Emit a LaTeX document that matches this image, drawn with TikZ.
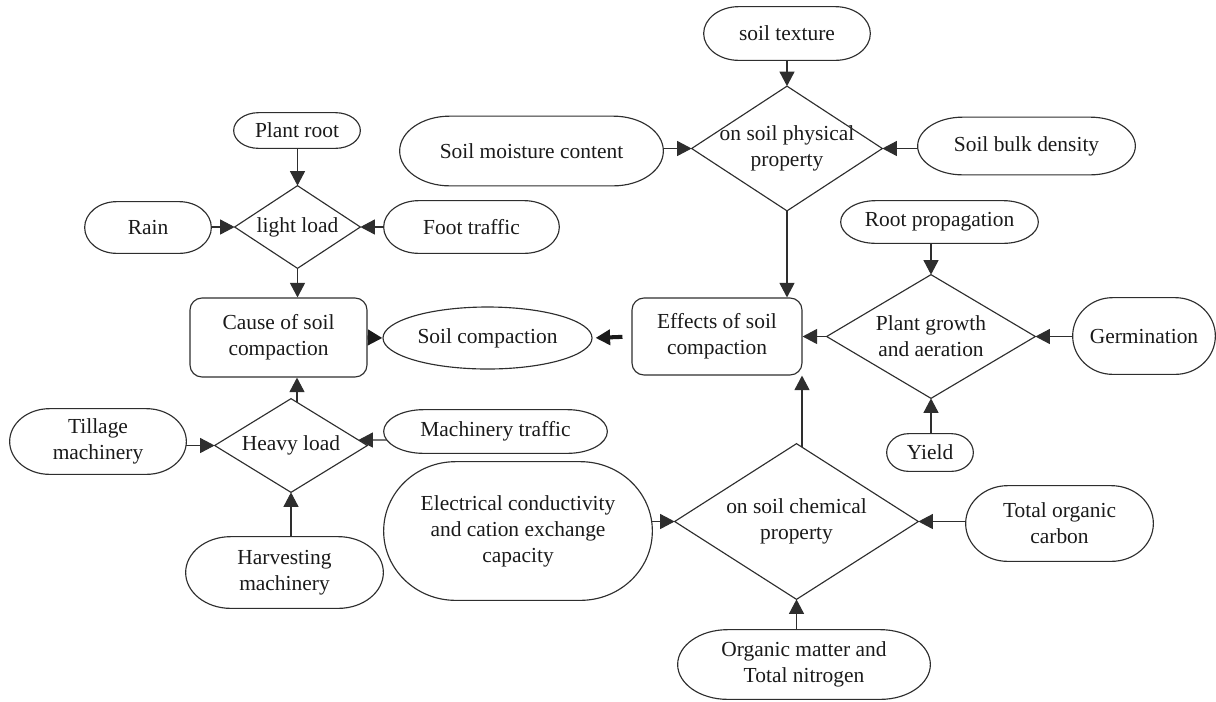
\documentclass[tikz,border=0pt]{standalone}
\usepackage{fontspec}
\setmainfont{Liberation Serif}
\usetikzlibrary{arrows.meta,calc,shapes.geometric}
\definecolor{ln}{HTML}{2E2E2E}
\definecolor{tx}{HTML}{1A1A1A}
\newcommand\stad[2]{\draw[shp] let \p1=(#1.north west), \p2=(#1.south east), \n1={(\y1-\y2)/2}, \n2={#2*0.02cm} in
  (\x1+\n2,\y1) -- (\x2-\n2,\y1) arc[start angle=90,end angle=-90,x radius=\n2,y radius=\n1]
  -- (\x1+\n2,\y2) arc[start angle=-90,end angle=-270,x radius=\n2,y radius=\n1] -- cycle;}
\newcommand\dmd[1]{\draw[shp] (#1.north) -- (#1.east) -- (#1.south) -- (#1.west) -- cycle;}
\begin{document}
\begin{tikzpicture}[x=0.02cm,y=-0.02cm,
  shp/.style={draw=ln, line width=0.65pt},
  nbase/.style={font=\fontsize{12.2}{14.8}\selectfont, text=tx, align=center, inner sep=0pt},
  sz/.style 2 args={minimum width=#1*0.02cm, minimum height=#2*0.02cm},
  blankn/.style={nbase, rectangle, draw=none},
  rbox/.style={nbase, rectangle, shp, rounded corners=0.24cm},
  ell/.style={nbase, ellipse, shp},
  arr/.style={draw=ln, line width=0.65pt, -{Triangle[length=0.29cm,width=0.3cm]}},
  bigarr/.style={draw=tx, line width=2.3pt, -{Triangle[length=0.29cm,width=0.3cm]}}]
\useasboundingbox (0,0) rectangle (1216,701);

% stadium-shaped nodes
\node[blankn, sz={166}{53}] (texture) at (787,33.5) {soil texture};
\node[blankn, sz={263}{69}] (moisture) at (531.5,151) {Soil moisture content};
\node[blankn, sz={217}{57}] (bulk) at (1026.5,146) {Soil bulk density};
\node[blankn, sz={197}{42}] (rootprop) at (939.5,222) {Root propagation};
\node[blankn, sz={126}{35}] (plantroot) at (297,130.5) {Plant root};
\node[blankn, sz={126}{51}] (rain) at (148,227.5) {Rain};
\node[blankn, sz={175}{52}] (foot) at (471.5,227) {Foot traffic};
\node[blankn, sz={142}{76}] (germ) at (1144,336) {Germination};
\node[blankn, sz={86}{37}] (yield) at (930,452.5) {Yield};
\node[blankn, sz={176}{65}] (tillage) at (98,441.5) {Tillage\\machinery};
\node[blankn, sz={223}{43}] (mach) at (495.5,431.5) {Machinery traffic};
\node[blankn, sz={197}{71}] (harvest) at (284.5,572.5) {Harvesting\\machinery};
\node[blankn, sz={268}{138}] (elec) at (518,531) {Electrical conductivity\\and cation exchange\\capacity};
\node[blankn, sz={187}{75}] (toc) at (1059.5,523.5) {Total organic\\carbon};
\node[blankn, sz={252}{69}] (orgmat) at (804,664.5) {Organic matter and\\Total nitrogen};

% diamonds
\node[blankn, sz={190}{124}] (phys) at (787,148.5) {on soil physical\\property};
\node[blankn, sz={125}{82}] (light) at (297.5,227) {light load};
\node[blankn, sz={208}{123}] (plant) at (931,336.5) {Plant growth\\and aeration};
\node[blankn, sz={152}{93}] (heavy) at (291,445.5) {Heavy load};
\node[blankn, sz={243}{155}] (chem) at (796.5,521.5) {on soil chemical\\property};

% boxes and ellipse
\node[rbox, sz={177}{79}] (cause) at (278.5,337.5) {Cause of soil\\compaction};
\node[rbox, sz={170}{77}] (effects) at (717,336.5) {Effects of soil\\compaction};
\node[ell, sz={209}{62}] (soilcomp) at (487.5,338) {Soil compaction};

% outlines
\stad{texture}{35}
\stad{moisture}{50}
\stad{bulk}{45}
\stad{rootprop}{35}
\stad{plantroot}{25}
\stad{rain}{32}
\stad{foot}{35}
\stad{germ}{40}
\stad{yield}{22}
\stad{tillage}{40}
\stad{mach}{40}
\stad{harvest}{45}
\stad{elec}{72}
\stad{toc}{42}
\stad{orgmat}{50}
\dmd{phys}
\dmd{light}
\dmd{plant}
\dmd{heavy}
\dmd{chem}

% connectors
\draw[arr] (phys.north |- texture.south) -- (phys.north);
\draw[arr] (phys.west -| moisture.east) -- (phys.west);
\draw[arr] (phys.east -| bulk.west) -- (phys.east);
\draw[arr] (phys.south) -- (phys.south |- effects.north);
\draw[arr] (plant.north |- rootprop.south) -- (plant.north);
\draw[arr] (plant.east -| germ.west) -- (plant.east);
\draw[arr] (plant.south |- yield.north) -- (plant.south);
\draw[arr] (plant.west) -- (effects.east);
\coordinate (ct) at ([xshift=0.11cm,yshift=-0.07cm]chem.north);
\draw[arr] (ct) -- (ct |- effects.south);
\draw[arr] (orgmat.north -| chem.south) -- (chem.south);
\draw[arr] (chem.west -| elec.east) -- (chem.west);
\draw[arr] (chem.east -| toc.west) -- (chem.east);
\draw[bigarr, shorten <=0.18cm, shorten >=0.06cm] (effects.west) -- (soilcomp.east);
\draw[bigarr] (cause.east) -- (soilcomp.west);
\draw[arr] (light.north |- plantroot.south) -- (light.north);
\draw[arr] (light.west -| rain.east) -- (light.west);
\draw[arr] (light.east -| foot.west) -- (light.east);
\draw[arr] (light.south) -- (light.south |- cause.north);
\coordinate (ht) at ([xshift=0.12cm,yshift=-0.07cm]heavy.north);
\draw[arr] (ht) -- (ht |- cause.south);
\draw[arr] (heavy.west -| tillage.east) -- (heavy.west);
\coordinate (ma) at ([xshift=0.06cm,yshift=-0.17cm]mach.west);
\coordinate (mb) at ([xshift=-0.18cm,yshift=0.11cm]heavy.east);
\draw[arr] (ma) -- (mb);
\draw[arr] (heavy.south |- harvest.north) -- (heavy.south);
\end{tikzpicture}
\end{document}
